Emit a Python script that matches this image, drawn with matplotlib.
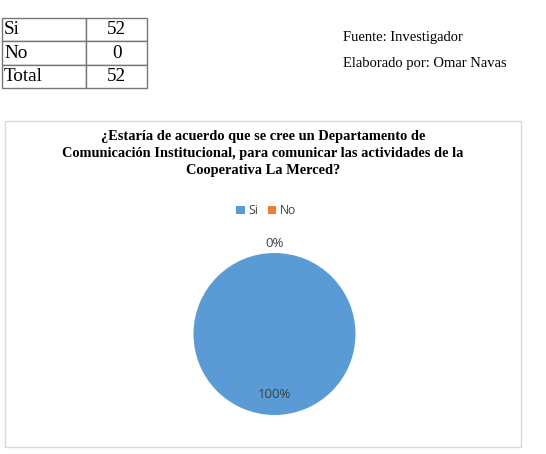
import matplotlib
matplotlib.use("Agg")
import matplotlib.pyplot as plt
from matplotlib.patches import Rectangle, Patch
import numpy as np

# Data
categories = ["Si", "No"]
values = [52, 0]
table_labels = ["Si", "No", "Total"]
table_counts = [52, 0, 52]
title = ("¿Estaría de acuerdo que se cree un Departamento de\n"
         "Comunicación Institucional, para comunicar las actividades de la\n"
         "Cooperativa La Merced?")
source_lines = ["Fuente: Investigador", "Elaborado por: Omar Navas"]
colors = ["#5B9BD5", "#ED7D31"]

W, H = 546, 454
fig = plt.figure(figsize=(W / 100, H / 100), dpi=100)

def fx(px):
    return px / W

def fy(py):
    return 1 - py / H

# Table
tax = fig.add_axes([fx(2), fy(88), fx(145), (88 - 18) / H])
tax.axis("off")
cell_text = [[lab, str(c)] for lab, c in zip(table_labels, table_counts)]
tbl = tax.table(cellText=cell_text, colWidths=[0.58, 0.42], bbox=[0, 0, 1, 1])
tbl.auto_set_font_size(False)
for (r, c), cell in tbl.get_celld().items():
    cell.set_edgecolor("#767676")
    cell.set_linewidth(1.0)
    t = cell.get_text()
    t.set_fontfamily("Liberation Serif")
    t.set_fontsize(13.8)
    if c == 0:
        cell.set_text_props(ha="left")
        cell.PAD = 0.025
    else:
        cell.set_text_props(ha="center")

# Source text
fig.text(fx(343), fy(37), source_lines[0], family="Liberation Serif", fontsize=10.5,
         va="center", ha="left")
fig.text(fx(343), fy(64), source_lines[1], family="Liberation Serif", fontsize=10.5,
         va="center", ha="left")

# Chart box
fig.add_artist(Rectangle((fx(5), fy(447)), fx(516), (447 - 121) / H,
                         transform=fig.transFigure, fill=False,
                         edgecolor="#d9d9d9", linewidth=1.0))

# Title
fig.text(fx(263), fy(153), title, family="Liberation Serif", fontweight="bold",
         fontsize=10.4, ha="center", va="center", linespacing=1.4, color="#000000")

# Pie
r_px = 81
cx, cy = 274.5, 334
half = 1.25 * r_px
pax = fig.add_axes([fx(cx - half), fy(cy + half), 2 * half / W, 2 * half / H])
wedges, _ = pax.pie(values, colors=colors, startangle=90, counterclock=False,
                    wedgeprops=dict(linewidth=0))
pax.set_xlim(-1.25, 1.25)
pax.set_ylim(-1.25, 1.25)
pax.set_aspect("equal")
pax.axis("off")
total = sum(values)
for w, v in zip(wedges, values):
    ang = np.deg2rad((w.theta1 + w.theta2) / 2)
    pct = v / total * 100
    d = 0.75 if v > 0 else 1.12
    pax.text(d * np.cos(ang), d * np.sin(ang), f"{pct:.0f}%", ha="center", va="center",
             fontsize=9.5, family="Open Sans", color="#404040")

# Legend
handles = [Patch(facecolor=c, edgecolor="none") for c in colors]
fig.legend(handles, categories, loc="center", bbox_to_anchor=(fx(266), fy(211)),
           ncol=2, frameon=False, prop=dict(family="Open Sans", size=8.7),
           handlelength=0.7, handleheight=0.7, handletextpad=0.3, columnspacing=0.8,
           labelcolor="#404040")

fig.savefig("out.png", dpi=100)
